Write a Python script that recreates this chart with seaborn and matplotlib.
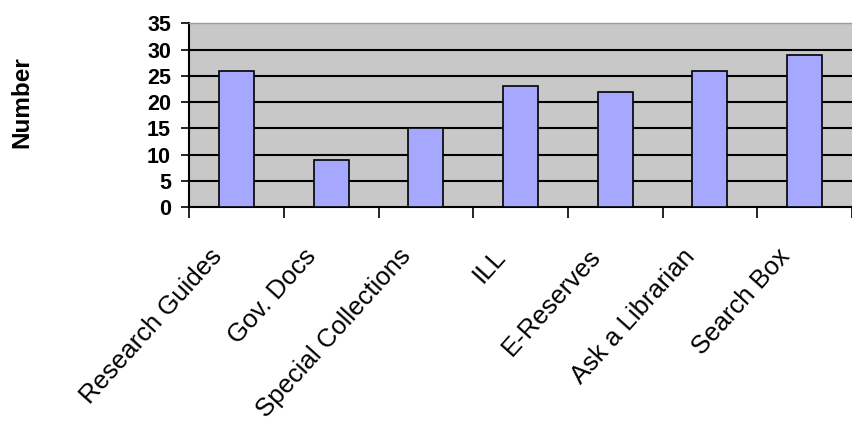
import numpy as np
import pandas as pd
import matplotlib
matplotlib.use("Agg")
import matplotlib.pyplot as plt
import matplotlib.transforms as mtransforms
import seaborn as sns

# data
categories = ["Research Guides", "Gov. Docs", "Special Collections", "ILL",
              "E-Reserves", "Ask a Librarian", "Search Box"]
counts = [26, 9, 15, 23, 22, 26, 29]
y_ticks = [0, 5, 10, 15, 20, 25, 30, 35]

BAR_COLOR = "#A6A8FF"
PLOT_BG = "#C8C8C8"

df = pd.DataFrame({"service": categories, "count": counts})

sns.set_style("white")
plt.rcParams["font.family"] = ["Liberation Sans", "DejaVu Sans"]
plt.rcParams["text.color"] = "black"
plt.rcParams["xtick.color"] = "black"
plt.rcParams["ytick.color"] = "black"
plt.rcParams["axes.labelcolor"] = "black"

fig = plt.figure(figsize=(8.52, 4.26), dpi=100)
ax = fig.add_axes([0.222, 0.514, 0.778, 0.431])
ax.set_facecolor(PLOT_BG)

sns.barplot(data=df, x="service", y="count", color=BAR_COLOR, width=0.37,
            edgecolor="black", linewidth=1.2, saturation=1, ax=ax, zorder=3)

ax.set_ylim(0, 35)
ax.set_xlim(-0.5, len(categories) - 0.5)
ax.set_yticks(y_ticks)
ax.set_yticklabels([str(v) for v in y_ticks], fontsize=15.5, fontweight="bold")

# black gridlines between 0 and top
for v in y_ticks[1:-1]:
    ax.axhline(v, color="black", lw=1.5, zorder=1)

# category boundary ticks on the x axis, labels at centres
ax.set_xticks(np.arange(len(categories) + 1) - 0.5, minor=True)
ax.tick_params(axis="x", which="minor", length=8, width=1.2, color="black",
               direction="out", bottom=True)
ax.tick_params(axis="x", which="major", length=0, pad=27)
ax.tick_params(axis="y", length=6, width=1.2, color="black", direction="out",
               left=True, pad=7)
ax.set_xticks(range(len(categories)))
ax.set_xticklabels(categories, rotation=48, ha="right", fontsize=18.5)
shift = mtransforms.ScaledTranslation(-10 / 100, 0, fig.dpi_scale_trans)
for lab in ax.get_xticklabels():
    lab.set_transform(lab.get_transform() + shift)

ax.set_xlabel("")
ax.set_ylabel("Number", fontsize=17.5, fontweight="bold")
ax.yaxis.set_label_coords(-0.235, 0.57)

for side in ["left", "bottom"]:
    ax.spines[side].set_color("black")
    ax.spines[side].set_linewidth(1.5)
ax.spines["top"].set_color("#9a9a9a")
ax.spines["top"].set_linewidth(1.0)
ax.spines["right"].set_visible(False)

fig.savefig("out.png", dpi=100)
